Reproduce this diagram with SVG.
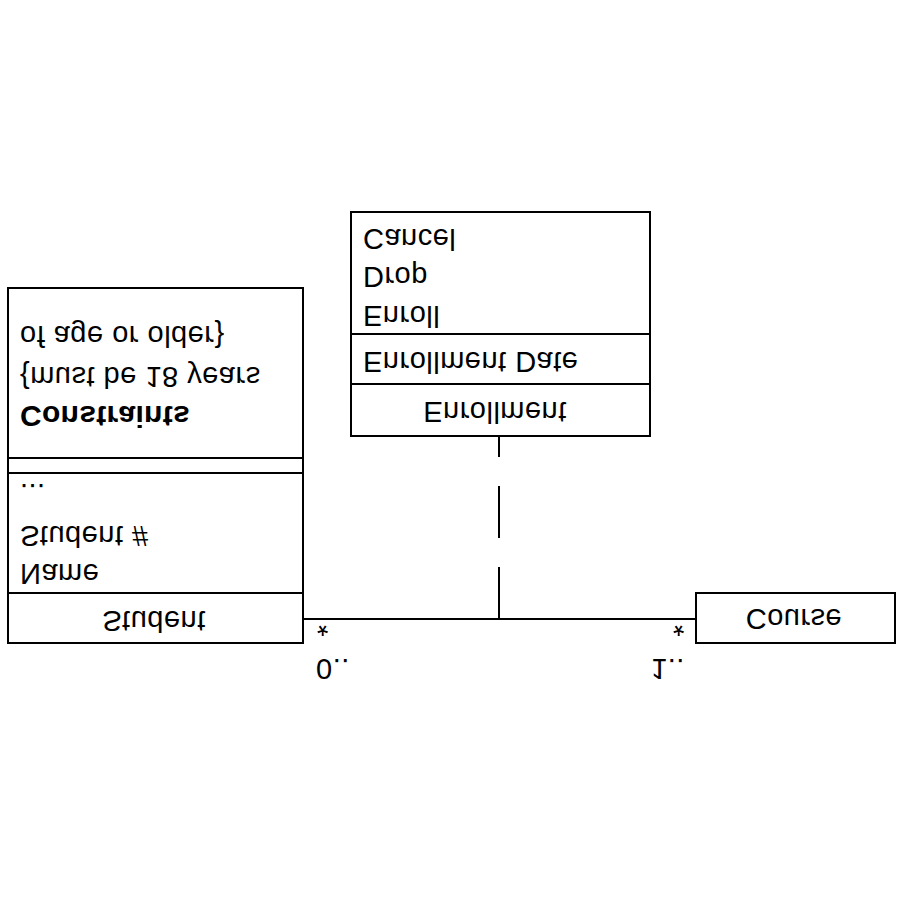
<svg xmlns="http://www.w3.org/2000/svg" width="900" height="900" viewBox="0 0 900 900">
<style>
.box{fill:#fff;stroke:#000;stroke-width:2}
.sep{stroke:#000;stroke-width:2}
.t{font-family:"Liberation Sans",Arial,sans-serif;font-size:29px;fill:#000;letter-spacing:0.5px}
.c{text-anchor:middle}
.b{font-weight:bold;font-size:30px;letter-spacing:0.3px}
.conn{stroke:#000;stroke-width:2;fill:none}
</style>
<rect width="900" height="900" fill="#fff"/>
<g transform="matrix(1 0 0 -1 0 900)">
  <g id="connectors">
    <line class="conn" x1="303" y1="281" x2="696" y2="281"/>
    <line class="conn" x1="499" y1="281" x2="499" y2="464" stroke-dasharray="52 29"/>
    <text class="t" x="316" y="241">0..</text>
    <text class="t" x="317" y="284">*</text>
    <text class="t" x="651" y="241">1..</text>
    <text class="t" x="673" y="284">*</text>
  </g>
  <g id="student">
    <rect class="box" x="8" y="257" width="295" height="355"/>
    <line class="sep" x1="8" y1="307" x2="303" y2="307"/>
    <line class="sep" x1="8" y1="427" x2="303" y2="427"/>
    <line class="sep" x1="8" y1="442" x2="303" y2="442"/>
    <text class="t c" x="154" y="289">Student</text>
    <text class="t" x="20" y="336">Name</text>
    <text class="t" x="20" y="374">Student #</text>
    <text class="t" x="20" y="416">...</text>
    <text class="t b" x="20" y="494">Constraints</text>
    <text class="t" x="20" y="533">{must be 18 years</text>
    <text class="t" x="20" y="574">of age or older}</text>
  </g>
  <g id="enrollment">
    <rect class="box" x="351" y="464" width="299" height="224"/>
    <line class="sep" x1="351" y1="516" x2="650" y2="516"/>
    <line class="sep" x1="351" y1="566" x2="650" y2="566"/>
    <text class="t c" x="495" y="498">Enrollment</text>
    <text class="t" x="363" y="548">Enrollment Date</text>
    <text class="t" x="363" y="594">Enroll</text>
    <text class="t" x="363" y="633">Drop</text>
    <text class="t" x="363" y="671">Cancel</text>
  </g>
  <g id="course">
    <rect class="box" x="696" y="257" width="199" height="50"/>
    <text class="t c" x="794" y="291">Course</text>
  </g>
</g>
</svg>
